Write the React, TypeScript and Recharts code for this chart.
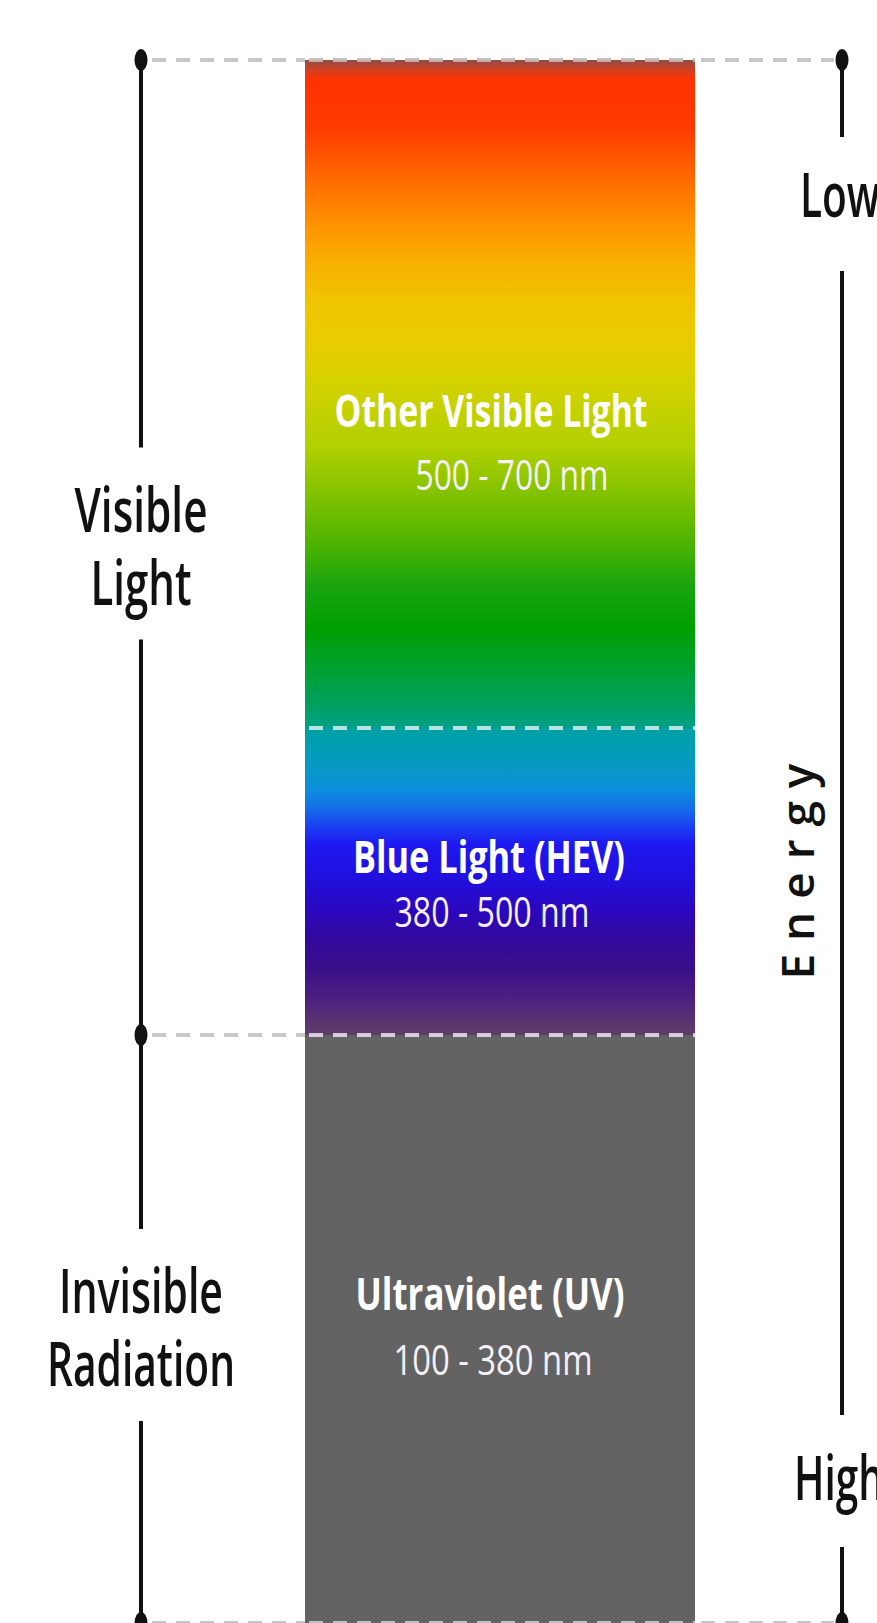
import { Bar, BarChart, ReferenceArea, ReferenceLine, XAxis, YAxis } from "recharts";

// bands from bottom of the column to the top
const bandKeys = ["uv", "blue", "visible"];
const bandNames = ["Ultraviolet (UV)", "Blue Light (HEV)", "Other Visible Light"];
const bandRanges = ["100 - 380 nm", "380 - 500 nm", "500 - 700 nm"];
// height each band takes on the column
const bandSpans = [588, 307, 668];

const groupLabels = [
  ["Invisible", "Radiation"],
  ["Visible", "Light"],
];
const energyLabels = ["Low", "Energy", "High"];

const total = bandSpans.reduce((a, b) => a + b, 0);
const row: Record<string, string | number> = { name: "spectrum" };
bandKeys.forEach((k, i) => (row[k] = bandSpans[i]));
const data = [row];

const boundaries = [0];
bandSpans.forEach((s, i) => boundaries.push(boundaries[i] + s));

const FONT = "'Open Sans', 'Noto Sans', sans-serif";
const LEFT_X = 141;
const RIGHT_X = 842;

// label placement inside each band (offset from band top, from column centre)
const titleTop = [275, 145, 367];
const rangeTop = [340, 199, 430];
const titleDx = [-10, -11, -9];
const rangeDx = [-7, -8, 12];
const titleLen = [269, 272, 313];
const rangeLen = [199, 195, 193];
const fills = ["#636363", "url(#blueGrad)", "url(#visGrad)"];

const bandShape = (i: number) => (props: any) => {
  const { x, y, width, height, fill } = props;
  const cx = x + width / 2;
  return (
    <g>
      <rect x={x} y={y} width={width} height={height} fill={fill} />
      <text
        x={cx + titleDx[i]}
        y={y + titleTop[i]}
        textAnchor="middle"
        fontFamily={FONT}
        fontWeight={700}
        fontSize={44}
        fill="#ffffff"
        textLength={titleLen[i]}
        lengthAdjust="spacingAndGlyphs"
      >
        {bandNames[i]}
      </text>
      <text
        x={cx + rangeDx[i]}
        y={y + rangeTop[i]}
        textAnchor="middle"
        fontFamily={FONT}
        fontWeight={400}
        fontSize={42}
        fill="#f6f0fa"
        textLength={rangeLen[i]}
        lengthAdjust="spacingAndGlyphs"
      >
        {bandRanges[i]}
      </text>
    </g>
  );
};

// dashed boundary lines across the chart
const dashFrom = [152, 152, null, 152];
const dashTo = [834, null, null, 834];
const leftDot = [true, true, false, true];
const rightDot = [true, false, false, true];
const innerStroke = [
  "rgba(255,255,255,0.6)",
  "rgba(235,225,245,0.85)",
  "rgba(225,245,245,0.8)",
  "rgba(200,185,185,0.9)",
];

const boundaryShape = (b: number) => (props: any) => {
  const { x1, x2, y1 } = props;
  const dash = "14 10";
  return (
    <g>
      {dashFrom[b] != null && (
        <line x1={dashFrom[b]!} x2={x1} y1={y1} y2={y1} stroke="#c8c8c8" strokeWidth={4} strokeDasharray={dash} />
      )}
      <line x1={x1 + 4} x2={x2} y1={y1} y2={y1} stroke={innerStroke[b]} strokeWidth={4} strokeDasharray={dash} />
      {dashTo[b] != null && (
        <line x1={x2 + 6} x2={dashTo[b]!} y1={y1} y2={y1} stroke="#c8c8c8" strokeWidth={4} strokeDasharray={dash} />
      )}
      {leftDot[b] && <ellipse cx={LEFT_X} cy={y1} rx={6.5} ry={11} fill="#111" />}
      {rightDot[b] && <ellipse cx={RIGHT_X} cy={y1} rx={6.5} ry={11} fill="#111" />}
    </g>
  );
};

const groupLen = [
  [164, 188],
  [133, 101],
];

const groupShape = (g: number) => (props: any) => {
  const { y, height } = props;
  const c = y + height / 2;
  return (
    <g>
      <line x1={LEFT_X} x2={LEFT_X} y1={y} y2={c - 100} stroke="#111" strokeWidth={4} />
      <line x1={LEFT_X} x2={LEFT_X} y1={c + 92} y2={y + height} stroke="#111" strokeWidth={4} />
      {groupLabels[g].map((t, k) => (
        <text
          key={t}
          x={LEFT_X}
          y={c - 16 + k * 73}
          textAnchor="middle"
          fontFamily={FONT}
          fontWeight={600}
          fontSize={62}
          fill="#111"
          textLength={groupLen[g][k]}
          lengthAdjust="spacingAndGlyphs"
        >
          {t}
        </text>
      ))}
    </g>
  );
};

const energyShape = (props: any) => {
  const { y, height } = props;
  const bottom = y + height;
  const ec = y + height / 2 + 30;
  return (
    <g>
      <line x1={RIGHT_X} x2={RIGHT_X} y1={y} y2={y + 77} stroke="#111" strokeWidth={4} />
      <line x1={RIGHT_X} x2={RIGHT_X} y1={y + 211} y2={bottom - 208} stroke="#111" strokeWidth={4} />
      <line x1={RIGHT_X} x2={RIGHT_X} y1={bottom - 76} y2={bottom} stroke="#111" strokeWidth={4} />
      <text
        x={800}
        y={y + 157}
        fontFamily={FONT}
        fontWeight={600}
        fontSize={62}
        fill="#111"
        textLength={80}
        lengthAdjust="spacingAndGlyphs"
      >
        {energyLabels[0]}
      </text>
      <text
        x={814}
        y={ec}
        textAnchor="middle"
        fontFamily={FONT}
        fontWeight={600}
        fontSize={46}
        fill="#111"
        textLength={216}
        lengthAdjust="spacing"
        transform={`rotate(-90 814 ${ec})`}
      >
        {energyLabels[1]}
      </text>
      <text
        x={794}
        y={bottom - 123}
        fontFamily={FONT}
        fontWeight={600}
        fontSize={62}
        fill="#111"
        textLength={90}
        lengthAdjust="spacingAndGlyphs"
      >
        {energyLabels[2]}
      </text>
    </g>
  );
};

export default function App() {
  return (
    <div style={{ position: "absolute", left: 0, top: 0, background: "#fff" }}>
      <BarChart
        width={877}
        height={1623}
        data={data}
        margin={{ top: 60, right: 182, bottom: 0, left: 305 }}
        barCategoryGap={0}
      >
        <defs>
          <linearGradient id="visGrad" x1="0" y1="0" x2="0" y2="1">
            <stop offset="0" stopColor="#8a5048" />
            <stop offset="0.012" stopColor="#c84028" />
            <stop offset="0.03" stopColor="#ff3300" />
            <stop offset="0.1" stopColor="#ff3a00" />
            <stop offset="0.15" stopColor="#ff5800" />
            <stop offset="0.2" stopColor="#ff7800" />
            <stop offset="0.25" stopColor="#ff9400" />
            <stop offset="0.3" stopColor="#f8ae00" />
            <stop offset="0.36" stopColor="#f0c400" />
            <stop offset="0.43" stopColor="#e6cc00" />
            <stop offset="0.49" stopColor="#d2d200" />
            <stop offset="0.58" stopColor="#b0d000" />
            <stop offset="0.64" stopColor="#88c400" />
            <stop offset="0.72" stopColor="#50b400" />
            <stop offset="0.79" stopColor="#18a410" />
            <stop offset="0.85" stopColor="#00a000" />
            <stop offset="0.92" stopColor="#00a038" />
            <stop offset="0.966" stopColor="#00a060" />
            <stop offset="1" stopColor="#00a088" />
          </linearGradient>
          <linearGradient id="blueGrad" x1="0" y1="0" x2="0" y2="1">
            <stop offset="0" stopColor="#00a0a0" />
            <stop offset="0.016" stopColor="#00a0a8" />
            <stop offset="0.14" stopColor="#0898c8" />
            <stop offset="0.2" stopColor="#0c8edc" />
            <stop offset="0.26" stopColor="#1470e8" />
            <stop offset="0.32" stopColor="#1a40f0" />
            <stop offset="0.38" stopColor="#1e18f0" />
            <stop offset="0.48" stopColor="#2010e0" />
            <stop offset="0.59" stopColor="#2a08c0" />
            <stop offset="0.68" stopColor="#32089e" />
            <stop offset="0.79" stopColor="#3c1088" />
            <stop offset="0.89" stopColor="#4c2280" />
            <stop offset="0.95" stopColor="#583272" />
            <stop offset="1" stopColor="#5e3e6a" />
          </linearGradient>
        </defs>
        <XAxis dataKey="name" hide />
        <YAxis type="number" domain={[0, total]} allowDataOverflow hide />
        <ReferenceArea y1={boundaries[0]} y2={boundaries[1]} ifOverflow="visible" shape={groupShape(0)} />
        <ReferenceArea y1={boundaries[1]} y2={boundaries[3]} ifOverflow="visible" shape={groupShape(1)} />
        <ReferenceArea y1={boundaries[0]} y2={boundaries[3]} ifOverflow="visible" shape={energyShape} />
        {bandKeys.map((k, i) => (
          <Bar key={k} dataKey={k} stackId="col" fill={fills[i]} shape={bandShape(i)} isAnimationActive={false} />
        ))}
        {boundaries.map((v, b) => (
          <ReferenceLine key={b} y={v} ifOverflow="visible" shape={boundaryShape(b)} />
        ))}
      </BarChart>
    </div>
  );
}
